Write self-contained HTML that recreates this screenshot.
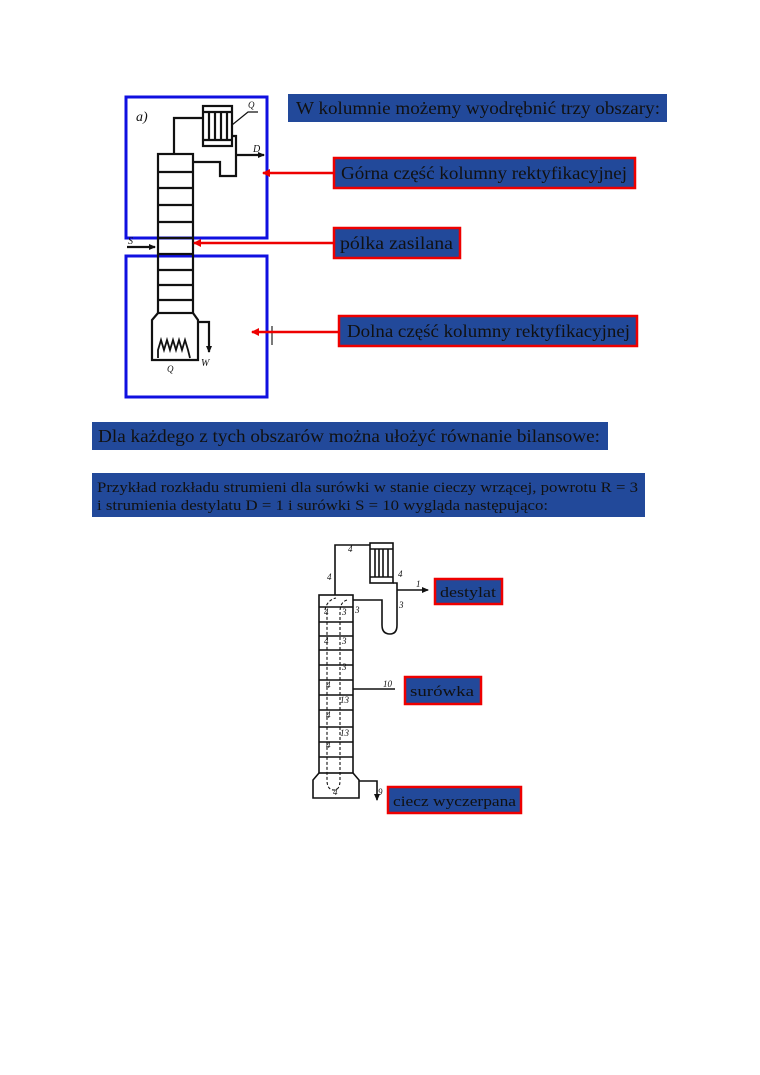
<!DOCTYPE html>
<html><head><meta charset="utf-8"><style>
body{margin:0;background:#fff;}
svg{display:block;}
text{font-family:"Liberation Serif",serif;}
</style></head><body>
<svg width="760" height="1075" viewBox="0 0 760 1075" xmlns="http://www.w3.org/2000/svg">
<defs>
<marker id="ra" markerWidth="8" markerHeight="8" refX="7" refY="4" orient="auto" markerUnits="userSpaceOnUse"><path d="M0,0 L8,4 L0,8 z" fill="#e00"/></marker>
<marker id="ka" markerWidth="7" markerHeight="6" refX="6" refY="3" orient="auto" markerUnits="userSpaceOnUse"><path d="M0,0 L7,3 L0,6 z" fill="#111"/></marker>
</defs>
<rect x="126" y="97" width="141" height="141" fill="none" stroke="#1010e0" stroke-width="3"/>
<rect x="126" y="256" width="141" height="141" fill="none" stroke="#1010e0" stroke-width="3"/>
<g stroke="#111" stroke-width="2.2" fill="none">
<rect x="158" y="154" width="35" height="159"/>
<path d="M158 172H193M158 188H193M158 205H193M158 222H193M158 238H193M158 254H193M158 270H193M158 285H193M158 300H193"/>
<path d="M174 154V118H203"/>
<rect x="203" y="106" width="29" height="40"/>
<path d="M203 112H232M203 140H232M209 112V140M215 112V140M221 112V140M227 112V140"/>
<path d="M193 162H220V176H236V136H232"/>
<path d="M236 155H264" marker-end="url(#ka)"/>
<path d="M127 247H155" marker-end="url(#ka)"/>
<path d="M158 313L152 320V360H198V320L193 313"/>
<path d="M198 322H209V352" marker-end="url(#ka)"/>
<path d="M158 358V350L161 340L164 350L167 340L170 350L173 340L176 350L179 340L182 350L185 340L188 350L190 358" stroke-width="1.8"/>
<path d="M232 125L248 112H258" stroke-width="1.2"/>
</g>
<text x="136" y="121" font-size="14" font-style="italic" fill="#111" font-family="Liberation Sans">a)</text>
<text x="248" y="108" font-size="9" font-style="italic" fill="#111" font-family="Liberation Sans">Q</text>
<text x="253" y="152" font-size="10" font-style="italic" fill="#111" font-family="Liberation Sans">D</text>
<text x="128" y="244" font-size="10" font-style="italic" fill="#111" font-family="Liberation Sans">S</text>
<text x="201" y="366" font-size="10" font-style="italic" fill="#111" font-family="Liberation Sans">W</text>
<text x="167" y="372" font-size="9" font-style="italic" fill="#111" font-family="Liberation Sans">Q</text>
<path d="M272 326V345" stroke="#222" stroke-width="1.2"/>
<g fill="#111" font-size="17.5">
<rect x="288" y="94" width="379" height="28" fill="#22499a"/>
<text x="296" y="114" textLength="364" lengthAdjust="spacingAndGlyphs">W kolumnie możemy wyodrębnić trzy obszary:</text>
<rect x="334" y="158" width="301" height="30" fill="#22499a" stroke="#e00" stroke-width="2.5"/>
<text x="341" y="179" textLength="286" lengthAdjust="spacingAndGlyphs">Górna część kolumny rektyfikacyjnej</text>
<rect x="334" y="228" width="126" height="30" fill="#22499a" stroke="#e00" stroke-width="2.5"/>
<text x="340" y="249" textLength="113" lengthAdjust="spacingAndGlyphs">pólka zasilana</text>
<rect x="339" y="316" width="298" height="30" fill="#22499a" stroke="#e00" stroke-width="2.5"/>
<text x="347" y="337" textLength="283" lengthAdjust="spacingAndGlyphs">Dolna część kolumny rektyfikacyjnej</text>
<rect x="92" y="422" width="516" height="28" fill="#22499a"/>
<text x="98" y="442" textLength="502" lengthAdjust="spacingAndGlyphs">Dla każdego z tych obszarów można ułożyć równanie bilansowe:</text>
<rect x="92" y="473" width="553" height="44" fill="#22499a"/>
<text x="97" y="492" font-size="15" textLength="541" lengthAdjust="spacingAndGlyphs">Przykład rozkładu strumieni dla surówki w stanie cieczy wrzącej, powrotu R = 3</text>
<text x="97" y="510" font-size="15" textLength="451" lengthAdjust="spacingAndGlyphs">i strumienia destylatu D = 1 i surówki S = 10 wygląda następująco:</text>
</g>
<g stroke="#e00" stroke-width="2.5">
<path d="M333 173H263" marker-end="url(#ra)"/>
<path d="M333 243H194" marker-end="url(#ra)"/>
<path d="M338 332H252" marker-end="url(#ra)"/>
</g>
<g stroke="#111" stroke-width="1.6" fill="none">
<rect x="319" y="595" width="34" height="178"/>
<path d="M319 607H353M319 622H353M319 636H353M319 650H353M319 665H353M319 680H353M319 695H353M319 710H353M319 727H353M319 742H353M319 757H353"/>
<path d="M319 773L313 780V798H359V780L353 773"/>
<path d="M335 595V545H370"/>
<rect x="370" y="543" width="23" height="40"/>
<path d="M370 549H393M370 577H393M375 549V577M379 549V577M383 549V577M388 549V577"/>
<path d="M393 583H397V625Q397 634 390 634Q382 634 382 625V600H353"/>
<path d="M397 590H428" marker-end="url(#ka)"/>
<path d="M395 689H353"/>
<path d="M359 781H377V800" marker-end="url(#ka)"/>
<path d="M325 610Q327 600 336 598M347 600Q340 602 340 612V780Q340 790 334 790Q327 790 327 780V612" stroke-dasharray="3,2" stroke-width="1.1"/>
</g>
<g font-family="Liberation Sans" font-style="italic" font-size="9" fill="#111">
<text x="348" y="552">4</text><text x="327" y="580">4</text><text x="398" y="577">4</text>
<text x="416" y="587">1</text><text x="355" y="613">3</text><text x="399" y="608">3</text>
<text x="324" y="615">4</text><text x="342" y="615">3</text><text x="324" y="644">4</text><text x="342" y="644">3</text>
<text x="342" y="670">3</text><text x="326" y="688">4</text><text x="340" y="703">13</text>
<text x="326" y="718">4</text><text x="340" y="736">13</text><text x="326" y="748">4</text>
<text x="333" y="795">4</text><text x="383" y="687">10</text><text x="378" y="795">9</text>
</g>
<g fill="#111" font-size="15">
<rect x="435" y="579" width="67" height="25" fill="#22499a" stroke="#e00" stroke-width="2.5"/>
<text x="440" y="597" textLength="56" lengthAdjust="spacingAndGlyphs">destylat</text>
<rect x="405" y="677" width="76" height="27" fill="#22499a" stroke="#e00" stroke-width="2.5"/>
<text x="410" y="696" textLength="64" lengthAdjust="spacingAndGlyphs">surówka</text>
<rect x="388" y="787" width="133" height="26" fill="#22499a" stroke="#e00" stroke-width="2.5"/>
<text x="393" y="806" textLength="123" lengthAdjust="spacingAndGlyphs">ciecz wyczerpana</text>
</g>
</svg>
</body></html>
